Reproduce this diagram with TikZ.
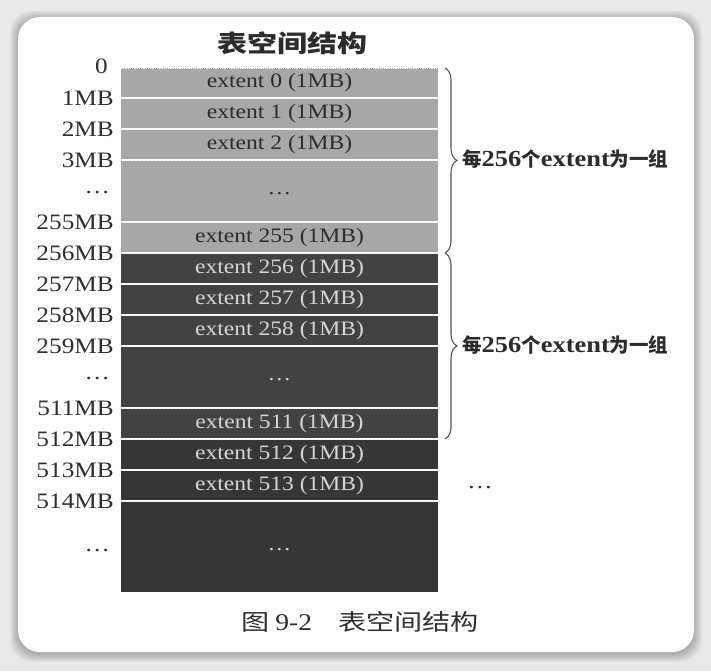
\documentclass[tikz,border=0pt]{standalone}
\usepackage{fontspec}
\setmainfont{Liberation Serif}
\newfontfamily\lat[FakeStretch=1.15]{Liberation Serif}
\newfontfamily\cjkn{Noto Sans CJK SC}
\newfontfamily\cjkw[FakeStretch=1.25]{Noto Sans CJK SC}
\usetikzlibrary{decorations.pathreplacing,calc}
\definecolor{bgout}{HTML}{E9E9E9}
\definecolor{gone}{HTML}{A7A7A7}
\definecolor{gtwo}{HTML}{424242}
\definecolor{gthree}{HTML}{363636}
\definecolor{tdark}{HTML}{2C2C2C}
\definecolor{tlight}{HTML}{D6D6D6}
\definecolor{lbltxt}{HTML}{2E2E2E}
\definecolor{bracecol}{HTML}{555555}
\tikzset{
  rowbox/.style={anchor=north, minimum width=317, inner sep=0, outer sep=0,
    font=\lat\fontsize{20.5}{21}\selectfont},
  lightrow/.style={rowbox, fill=gone, text=tdark},
  darkrow/.style={rowbox, fill=gtwo, text=tlight},
  darkerrow/.style={rowbox, fill=gthree, text=tlight},
  sep/.style={white, line width=2.7pt},
  septex/.style={gray!45, line width=0.5pt, dash pattern=on 1pt off 3pt, opacity=0.6},
  lbl/.style={anchor=east, inner sep=0, text=lbltxt, font=\lat\fontsize{22}{23}\selectfont},
  grplbl/.style={anchor=west, inner sep=0, text=tdark},
  bracestyle/.style={decorate, decoration={brace, amplitude=12pt}, line width=1.1pt, bracecol},
}
\newcommand{\lowdots}{\rule{0pt}{8pt}…}
\begin{document}
\begin{tikzpicture}[x=1pt,y=-1pt]
\useasboundingbox (0,0) rectangle (711,671);
% background and card
\fill[bgout] (0,0) rectangle (711,671);
\foreach \d in {1,...,8}{
  \fill[black, opacity=0.03, rounded corners=22pt] (18-\d,17-\d+2) rectangle (694+\d,652+\d+2);
}
\fill[white, rounded corners=22pt] (18,17) rectangle (694,652);

% title
\node[text=tdark, inner sep=0, font=\cjkw\bfseries\fontsize{24}{26}\selectfont] (title) at (292,43) {表空间结构};

% rows
\node[lightrow, minimum height=30] (e0) at (279.5,68) {extent 0 (1MB)};
\node[lightrow, minimum height=31] (e1) at (e0.south) {extent 1 (1MB)};
\node[lightrow, minimum height=31] (e2) at (e1.south) {extent 2 (1MB)};
\node[lightrow, minimum height=62] (d1) at (e2.south) {\lowdots};
\node[lightrow, minimum height=31] (e255) at (d1.south) {extent 255 (1MB)};
\node[darkrow, minimum height=31] (e256) at (e255.south) {extent 256 (1MB)};
\node[darkrow, minimum height=31] (e257) at (e256.south) {extent 257 (1MB)};
\node[darkrow, minimum height=31] (e258) at (e257.south) {extent 258 (1MB)};
\node[darkrow, minimum height=62] (d2) at (e258.south) {\lowdots};
\node[darkrow, minimum height=31] (e511) at (d2.south) {extent 511 (1MB)};
\node[darkerrow, minimum height=31] (e512) at (e511.south) {extent 512 (1MB)};
\node[darkerrow, minimum height=31] (e513) at (e512.south) {extent 513 (1MB)};
\node[darkerrow, minimum height=91] (d3) at (e513.south) {\lowdots};

% separators
\draw[white, line width=0.8pt, densely dotted] (e0.north west) -- (e0.north east);
\foreach \n in {e0,e1,e2,d1,e255,e256,e257,e258,d2,e511,e512,e513}{
  \draw[sep] (\n.south west) -- (\n.south east);
  \draw[septex] (\n.south west) -- (\n.south east);
}

% left labels
\node[lbl] (l0) at (108,66) {0};
\node[lbl] (l1) at (114,98) {1MB};
\node[lbl] (l2) at (114,129) {2MB};
\node[lbl] (l3) at (114,160) {3MB};
\node[lbl] (ld1) at (110,190) {\lowdots};
\node[lbl] (l255) at (114,222) {255MB};
\node[lbl] (l256) at (114,253) {256MB};
\node[lbl] (l257) at (114,284) {257MB};
\node[lbl] (l258) at (114,315) {258MB};
\node[lbl] (l259) at (114,346) {259MB};
\node[lbl] (ld2) at (110,376) {\lowdots};
\node[lbl] (l511) at (114,408) {511MB};
\node[lbl] (l512) at (114,439) {512MB};
\node[lbl] (l513) at (114,470) {513MB};
\node[lbl] (l514) at (114,501) {514MB};
\node[lbl] (ld3) at (110,548) {\lowdots};

% braces
\coordinate (b1t) at ($(e0.north east)+(7,0)$);
\coordinate (b1b) at ($(e255.south east)+(7,0)$);
\coordinate (b2b) at ($(e511.south east)+(7,0)$);
\draw[bracestyle] (b1t) -- (b1b);
\draw[bracestyle] (b1b) -- (b2b);

\node[grplbl] (g1) at (462,159) {{\cjkn\bfseries\fontsize{19.5}{20}\selectfont 每}{\lat\bfseries\fontsize{23}{24}\selectfont 256}{\cjkn\bfseries\fontsize{19.5}{20}\selectfont 个}{\lat\bfseries\fontsize{23}{24}\selectfont extent}{\cjkn\bfseries\fontsize{19.5}{20}\selectfont 为一组}};
\node[grplbl] (g2) at (462,345) {{\cjkn\bfseries\fontsize{19.5}{20}\selectfont 每}{\lat\bfseries\fontsize{23}{24}\selectfont 256}{\cjkn\bfseries\fontsize{19.5}{20}\selectfont 个}{\lat\bfseries\fontsize{23}{24}\selectfont extent}{\cjkn\bfseries\fontsize{19.5}{20}\selectfont 为一组}};

\node[inner sep=0, text=lbltxt, font=\lat\fontsize{22}{23}\selectfont] (more) at (480,485) {\lowdots};

% caption
\node[inner sep=0, text=lbltxt] (cap) at (360,622) {{\cjkw\fontsize{22.5}{24}\selectfont 图}\hspace{6pt}{\lat\fontsize{24}{25}\selectfont 9-2}\hspace{26pt}{\cjkw\fontsize{22.5}{24}\selectfont 表空间结构}};
\end{tikzpicture}
\end{document}
